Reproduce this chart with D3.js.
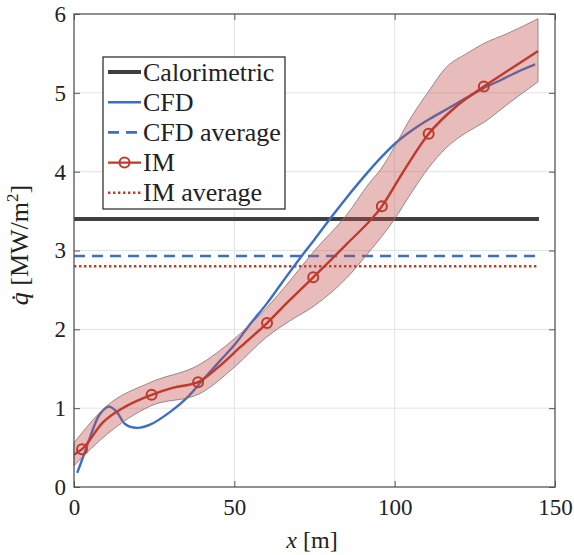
<!DOCTYPE html>
<html lang="en">
<head>
    <meta charset="UTF-8">
    <script src="https://d3js.org/d3.v7.min.js"></script>
    <title>Heat flux along x</title>
    <style>
        body { margin: 0; background: #fff; }
        text { font-family: "Liberation Serif", "DejaVu Serif", serif; fill: #222; }
    </style>
</head>
<body>
    <script>
        // axis ticks
        var xTicks = [0, 50, 100, 150];
        var yTicks = [0, 1, 2, 3, 4, 5, 6];

        // CFD curve
        var cfdX = [1, 3, 5, 8, 10.9, 13.4, 15.9, 19.6, 23.7, 29.9, 35.2, 40, 45.5, 50, 55, 60, 65, 71, 75, 79.8, 85, 90.5, 96, 100.5, 106, 111, 117, 122.5, 127.8, 133, 138, 143.8];
        var cfdY = [0.18, 0.40, 0.63, 0.92, 1.02, 0.95, 0.80, 0.75, 0.79, 0.95, 1.13, 1.35, 1.60, 1.80, 2.07, 2.32, 2.60, 2.93, 3.14, 3.40, 3.67, 3.94, 4.19, 4.37, 4.54, 4.67, 4.81, 4.94, 5.06, 5.16, 5.26, 5.36];

        // IM curve and its markers
        var imX = [0, 2.5, 9, 16, 24.2, 31, 38.7, 45, 52, 60.2, 67, 74.6, 85, 96, 103, 110.6, 119, 127.8, 136, 144.7];
        var imY = [0.41, 0.48, 0.82, 1.02, 1.17, 1.26, 1.33, 1.52, 1.78, 2.08, 2.36, 2.66, 3.08, 3.56, 4.02, 4.48, 4.82, 5.08, 5.30, 5.53];
        var markerX = [2.5, 24.2, 38.7, 60.2, 74.6, 96, 110.6, 127.8];
        var markerY = [0.48, 1.17, 1.33, 2.08, 2.66, 3.56, 4.48, 5.08];

        // IM uncertainty band
        var bandX = [0, 10, 24, 39, 50, 60, 67, 75, 85, 92, 96, 100, 105, 110.6, 116, 122.5, 128, 135, 144.7];
        var bandUpper = [0.56, 1.02, 1.33, 1.55, 1.88, 2.27, 2.60, 3.00, 3.45, 3.85, 4.05, 4.32, 4.68, 5.02, 5.32, 5.50, 5.63, 5.75, 5.94];
        var bandLower = [0.27, 0.66, 1.03, 1.18, 1.52, 1.90, 2.10, 2.30, 2.65, 2.98, 3.18, 3.40, 3.72, 4.05, 4.30, 4.50, 4.63, 4.85, 5.14];

        // constant levels
        var levelNames = ["Calorimetric", "CFD average", "IM average"];
        var levelValues = [3.40, 2.93, 2.80];
        var levelXEnd = 145;

        var legendNames = ["Calorimetric", "CFD", "CFD average", "IM", "IM average"];

        var red = "#c0392b", blue = "#3b6fc7", dark = "#404040";

        var W = 574, H = 555;
        var m = {left: 74, top: 14, right: 19, bottom: 68};
        var w = W - m.left - m.right, h = H - m.top - m.bottom;

        var x = d3.scaleLinear().domain([0, 150]).range([0, w]);
        var y = d3.scaleLinear().domain([0, 6]).range([h, 0]);

        var svg = d3.select("body").append("svg").attr("width", W).attr("height", H);
        var g = svg.append("g").attr("transform", "translate(" + m.left + "," + m.top + ")");

        // grid
        g.selectAll(".gx").data(xTicks.slice(1, -1)).join("line")
            .attr("x1", d => x(d)).attr("x2", d => x(d)).attr("y1", 0).attr("y2", h)
            .attr("stroke", "#e3e3e3").attr("stroke-width", 1);
        g.selectAll(".gy").data(yTicks.slice(1, -1)).join("line")
            .attr("x1", 0).attr("x2", w).attr("y1", d => y(d)).attr("y2", d => y(d))
            .attr("stroke", "#e3e3e3").attr("stroke-width", 1);

        // horizontal levels
        var levelStyle = {
            "Calorimetric": {color: dark, width: 4, dash: null},
            "CFD average": {color: blue, width: 2.6, dash: "11,7"},
            "IM average": {color: red, width: 2.6, dash: "2.4,2.6"}
        };
        levelNames.forEach(function(n, i) {
            var s = levelStyle[n];
            g.append("line")
                .attr("x1", x(0)).attr("x2", x(levelXEnd))
                .attr("y1", y(levelValues[i])).attr("y2", y(levelValues[i]))
                .attr("stroke", s.color).attr("stroke-width", s.width)
                .attr("stroke-dasharray", s.dash);
        });

        // CFD
        var cfd = cfdX.map((d, i) => [d, cfdY[i]]);
        g.append("path").datum(cfd)
            .attr("d", d3.line().x(d => x(d[0])).y(d => y(d[1])).curve(d3.curveCatmullRom))
            .attr("fill", "none").attr("stroke", blue).attr("stroke-width", 2.4);

        // band
        var band = bandX.map((d, i) => ({x: d, lo: bandLower[i], hi: bandUpper[i]}));
        g.append("path").datum(band)
            .attr("d", d3.area().x(d => x(d.x)).y0(d => y(d.lo)).y1(d => y(d.hi)).curve(d3.curveMonotoneX))
            .attr("fill", "#c0504d").attr("fill-opacity", 0.38)
            .attr("stroke", "#8a7070").attr("stroke-width", 1).attr("stroke-opacity", 0.8);

        // IM
        var im = imX.map((d, i) => [d, imY[i]]);
        g.append("path").datum(im)
            .attr("d", d3.line().x(d => x(d[0])).y(d => y(d[1])).curve(d3.curveMonotoneX))
            .attr("fill", "none").attr("stroke", red).attr("stroke-width", 2.4);
        g.selectAll(".mk").data(markerX).join("circle")
            .attr("cx", d => x(d)).attr("cy", (d, i) => y(markerY[i])).attr("r", 5)
            .attr("fill", "none").attr("stroke", red).attr("stroke-width", 2);

        // axes with inward ticks
        var fmt = d3.format("d");
        g.append("g").attr("transform", "translate(0," + h + ")")
            .call(d3.axisBottom(x).tickValues(xTicks).tickFormat(fmt).tickSizeInner(-6).tickSizeOuter(0).tickPadding(12));
        g.append("g")
            .call(d3.axisLeft(y).tickValues(yTicks).tickFormat(fmt).tickSizeInner(-6).tickSizeOuter(0).tickPadding(8));
        g.append("g")
            .call(d3.axisTop(x).tickValues(xTicks).tickFormat("").tickSizeInner(-6).tickSizeOuter(0));
        g.append("g").attr("transform", "translate(" + w + ",0)")
            .call(d3.axisRight(y).tickValues(yTicks).tickFormat("").tickSizeInner(-6).tickSizeOuter(0));
        g.selectAll(".domain").remove();
        g.selectAll(".tick line").attr("stroke", "#555");
        g.selectAll(".tick text").style("font-family", "Liberation Serif").style("font-size", "23px").attr("fill", "#222");
        g.append("rect").attr("width", w).attr("height", h)
            .attr("fill", "none").attr("stroke", "#555").attr("stroke-width", 1.3);

        // axis labels
        var xl = svg.append("text").attr("x", 312).attr("y", 548)
            .attr("text-anchor", "middle").style("font-size", "24px");
        xl.append("tspan").style("font-style", "italic").text("x");
        xl.append("tspan").text(" [m]");

        var yl = svg.append("text")
            .attr("transform", "translate(28,245) rotate(-90)")
            .attr("text-anchor", "middle").style("font-size", "26px");
        yl.append("tspan").style("font-style", "italic").text("q\u0307");
        yl.append("tspan").text(" [MW/m");
        yl.append("tspan").attr("dy", -10).style("font-size", "17px").text("2");
        yl.append("tspan").attr("dy", 10).text("]");

        // legend
        var lg = svg.append("g").attr("transform", "translate(103,57)");
        lg.append("rect").attr("width", 182).attr("height", 152)
            .attr("fill", "#fff").attr("stroke", "#333").attr("stroke-width", 1.3);
        var rowY = d => 15 + d * 30.2;
        var legendStyle = {
            "Calorimetric": {color: dark, width: 4, dash: null},
            "CFD": {color: blue, width: 2.4, dash: null},
            "CFD average": {color: blue, width: 2.6, dash: "11,7"},
            "IM": {color: red, width: 2.4, dash: null},
            "IM average": {color: red, width: 2.6, dash: "2.4,2.6"}
        };
        legendNames.forEach(function(n, i) {
            var s = legendStyle[n];
            lg.append("line").attr("x1", 5).attr("x2", 38).attr("y1", rowY(i)).attr("y2", rowY(i))
                .attr("stroke", s.color).attr("stroke-width", s.width).attr("stroke-dasharray", s.dash);
            if (n === "IM") {
                lg.append("circle").attr("cx", 21.5).attr("cy", rowY(i)).attr("r", 5)
                    .attr("fill", "none").attr("stroke", red).attr("stroke-width", 2);
            }
            lg.append("text").attr("x", 40).attr("y", rowY(i)).attr("dy", "0.33em")
                .style("font-size", "26px").text(n);
        });
    </script>
</body>
</html>
